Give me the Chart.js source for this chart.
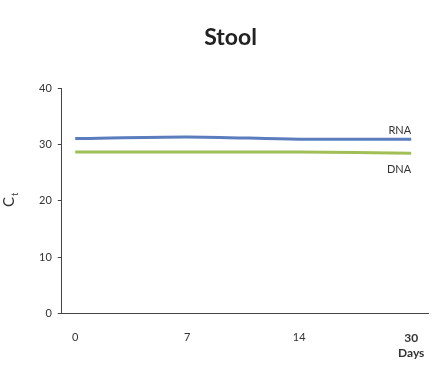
<!DOCTYPE html>
<html>
<head>
<meta charset="utf-8">
<script src="https://cdn.jsdelivr.net/npm/chart.js@4"></script>
<style>
  body { margin: 0; background: #fff; }
</style>
</head>
<body>
<canvas id="mycanvas" width="447" height="378"></canvas>
<script>
var days = ['0', '7', '14', '30'];
var rna = [31.1, 31.4, 31.0, 31.0];
var dna = [28.7, 28.7, 28.7, 28.5];
var yTicks = [0, 10, 20, 30, 40];

function points(values) {
  var out = [];
  for (var i in values) {
    out.push({ x: Number(i), y: values[i] });
  }
  return out;
}

// C with a subscript t, rotated, and the end labels next to the lines
var extras = {
  id: 'extras',
  afterDraw: function(chart) {
    var ctx = chart.ctx;
    ctx.save();
    ctx.translate(14, 201);
    ctx.rotate(-Math.PI / 2);
    ctx.fillStyle = '#333';
    ctx.textBaseline = 'alphabetic';
    ctx.font = '15px Lato';
    ctx.fillText('C', -6, 0);
    ctx.font = '9px Lato';
    ctx.fillText('t', 5, 4);
    ctx.restore();

    ctx.save();
    ctx.font = '11px Lato';
    ctx.fillStyle = '#333';
    ctx.textAlign = 'right';
    chart.data.datasets.forEach(function(ds, i) {
      var meta = chart.getDatasetMeta(i);
      var last = meta.data[meta.data.length - 1];
      var dy = i === 0 ? -9 : 16;
      ctx.textBaseline = 'middle';
      ctx.fillText(ds.label, last.x, last.y + dy);
    });
    ctx.restore();
  }
};

var chartdata = {
  datasets: [
    {
      label: 'RNA',
      data: points(rna),
      borderColor: '#5b7dbd',
      borderWidth: 3,
      pointRadius: 0,
      tension: 0.3
    },
    {
      label: 'DNA',
      data: points(dna),
      borderColor: '#a1bf57',
      borderWidth: 3,
      pointRadius: 0,
      tension: 0.3
    }
  ]
};

var ctx = document.getElementById('mycanvas');

var lineGraph = new Chart(ctx, {
  type: 'line',
  data: chartdata,
  options: {
    responsive: false,
    animation: false,
    layout: { padding: { left: 33, right: 19, bottom: 8 } },
    plugins: {
      legend: { display: false },
      tooltip: { enabled: false },
      title: {
        display: true,
        text: 'Stool',
        color: '#222',
        font: { family: 'Lato', size: 23, weight: 'bold' },
        padding: { top: 24, bottom: 37 }
      }
    },
    scales: {
      x: {
        type: 'linear',
        min: -0.12,
        max: 3.15,
        afterBuildTicks: function(axis) {
          axis.ticks = days.map(function(d, i) { return { value: i }; });
        },
        grid: { display: false },
        border: { display: true, color: '#444', width: 1 },
        ticks: {
          padding: 10,
          color: '#333',
          maxRotation: 0,
          font: function(c) {
            var last = c.index === days.length - 1;
            return { family: 'Lato', size: last ? 12 : 11, weight: last ? 'bold' : 'normal' };
          },
          callback: function(value) {
            var i = Math.round(value);
            if (i === days.length - 1) return [days[i], 'Days'];
            return days[i];
          }
        }
      },
      y: {
        min: 0,
        max: 40,
        afterBuildTicks: function(axis) {
          axis.ticks = yTicks.map(function(v) { return { value: v }; });
        },
        grid: { drawOnChartArea: false, drawTicks: true, tickLength: 4, color: '#444' },
        border: { display: true, color: '#444', width: 1 },
        ticks: {
          padding: 6,
          color: '#333',
          font: { family: 'Lato', size: 11 }
        }
      }
    }
  },
  plugins: [extras]
});
</script>
</body>
</html>
